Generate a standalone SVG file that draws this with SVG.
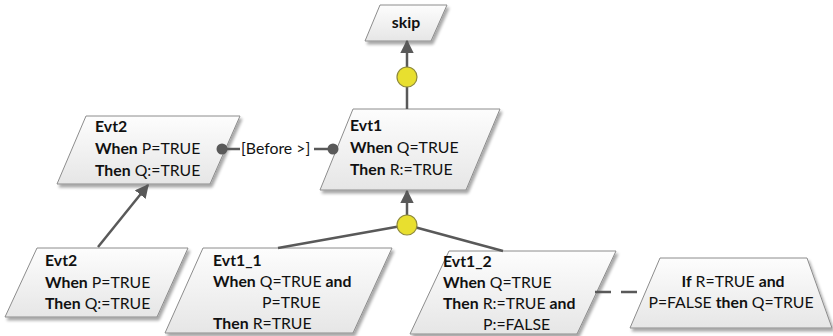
<svg xmlns="http://www.w3.org/2000/svg" width="833" height="336" viewBox="0 0 833 336">
  <defs>
    <linearGradient id="shapeFill" x1="0" y1="0" x2="0" y2="1">
      <stop offset="0" stop-color="#fdfdfd"/>
      <stop offset="1" stop-color="#e6e6e6"/>
    </linearGradient>
    <filter id="drop" x="-10%" y="-10%" width="130%" height="140%">
      <feGaussianBlur in="SourceAlpha" stdDeviation="1.6"/>
      <feOffset dx="2" dy="2.5" result="blur"/>
      <feComponentTransfer><feFuncA type="linear" slope="0.35"/></feComponentTransfer>
      <feMerge><feMergeNode/><feMergeNode in="SourceGraphic"/></feMerge>
    </filter>
    <marker id="arrow" viewBox="0 0 10 10" refX="9" refY="5" markerWidth="5.5" markerHeight="5.5" markerUnits="strokeWidth" orient="auto">
      <path d="M0,0 L10,5 L0,10 z" fill="#595959"/>
    </marker>
    <style>
      .shape { fill: url(#shapeFill); stroke: #8c8c8c; stroke-width: 1; filter: url(#drop); }
      .txt { font-family: Lato, "Liberation Sans", sans-serif; font-size: 15.8px; fill: #111; }
      .b { font-weight: bold; }
      .wire { stroke: #595959; stroke-width: 2.5; fill: none; }
      .dot { fill: #595959; }
      .join { fill: #e8df2f; stroke: #8f8a3a; stroke-width: 1.2; }
    </style>
  </defs>

  <g id="skip">
    <polygon class="shape" points="380,5 447,5 431,41 365,41"/>
    <text class="txt b" x="406" y="28" text-anchor="middle">skip</text>
  </g>

  <g id="evt1">
    <polygon class="shape" points="353,109 500,109 466,190 320,190"/>
    <text class="txt" x="350" y="131"><tspan class="b">Evt1</tspan></text>
    <text class="txt" x="350" y="153"><tspan class="b">When</tspan> Q=TRUE</text>
    <text class="txt" x="350" y="175"><tspan class="b">Then</tspan> R:=TRUE</text>
  </g>

  <g id="evt2-top">
    <polygon class="shape" points="86,116 240,116 210,184 57,184"/>
    <text class="txt" x="95" y="132"><tspan class="b">Evt2</tspan></text>
    <text class="txt" x="95" y="154"><tspan class="b">When</tspan> P=TRUE</text>
    <text class="txt" x="95" y="176"><tspan class="b">Then</tspan> Q:=TRUE</text>
  </g>

  <g id="evt2-bottom">
    <polygon class="shape" points="37,248 188,248 157,317 5,317"/>
    <text class="txt" x="45" y="266"><tspan class="b">Evt2</tspan></text>
    <text class="txt" x="45" y="288"><tspan class="b">When</tspan> P=TRUE</text>
    <text class="txt" x="45" y="309"><tspan class="b">Then</tspan> Q:=TRUE</text>
  </g>

  <g id="evt1_1">
    <polygon class="shape" points="203,248 392,248 353,333 165,333"/>
    <text class="txt" x="213" y="266"><tspan class="b">Evt1_1</tspan></text>
    <text class="txt" x="213" y="287"><tspan class="b">When</tspan> Q=TRUE <tspan class="b">and</tspan></text>
    <text class="txt" x="262" y="308">P=TRUE</text>
    <text class="txt" x="213" y="329"><tspan class="b">Then</tspan> R=TRUE</text>
  </g>

  <g id="evt1_2">
    <polygon class="shape" points="449,251 616,251 577,334 410,334"/>
    <text class="txt" x="443" y="267"><tspan class="b">Evt1_2</tspan></text>
    <text class="txt" x="443" y="288"><tspan class="b">When</tspan> Q=TRUE</text>
    <text class="txt" x="443" y="309"><tspan class="b">Then</tspan> R:=TRUE <tspan class="b">and</tspan></text>
    <text class="txt" x="483" y="330">P:=FALSE</text>
  </g>

  <g id="condition">
    <polygon class="shape" points="660,258 807,258 832,328 630,328"/>
    <text class="txt" x="733" y="287" text-anchor="middle"><tspan class="b">If</tspan> R=TRUE <tspan class="b">and</tspan></text>
    <text class="txt" x="731" y="308" text-anchor="middle">P=FALSE <tspan class="b">then</tspan> Q=TRUE</text>
  </g>

  <!-- connectors, drawn above the nodes so the end dots stay visible -->
  <g id="connectors">
    <line class="wire" x1="407" y1="109" x2="407" y2="41" marker-end="url(#arrow)"/>
    <circle class="join" cx="407" cy="77" r="10"/>
    <line class="wire" x1="407" y1="215" x2="407" y2="191" marker-end="url(#arrow)"/>
    <line class="wire" x1="278" y1="248" x2="407" y2="225"/>
    <line class="wire" x1="503" y1="251" x2="407" y2="225"/>
    <circle class="join" cx="407" cy="225" r="10"/>
    <line class="wire" x1="98" y1="247" x2="148" y2="185" marker-end="url(#arrow)"/>
    <line class="wire" x1="222" y1="149" x2="240" y2="149" stroke-width="2"/>
    <line class="wire" x1="314" y1="149" x2="333" y2="149" stroke-width="2"/>
    <circle class="dot" cx="222" cy="149" r="5.5"/>
    <circle class="dot" cx="333" cy="149" r="5.5"/>
    <text class="txt" x="241" y="154">[Before &gt;]</text>
    <line class="wire" x1="595" y1="292" x2="640" y2="292" stroke-dasharray="16 10"/>
  </g>
</svg>
